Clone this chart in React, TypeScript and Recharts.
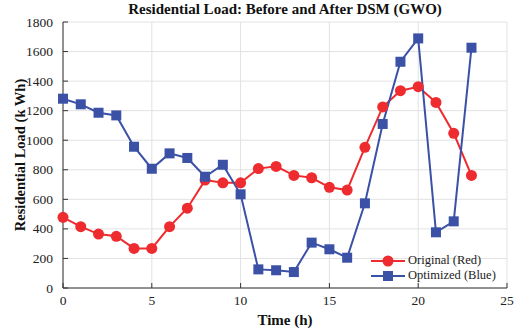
import React from 'react';
import { LineChart, Line, XAxis, YAxis, CartesianGrid } from 'recharts';

const hours = [0, 1, 2, 3, 4, 5, 6, 7, 8, 9, 10, 11, 12, 13, 14, 15, 16, 17, 18, 19, 20, 21, 22, 23];
const originalLoad = [478, 415, 365, 350, 268, 268, 415, 540, 730, 712, 712, 808, 823, 762, 746, 681, 663, 952, 1225, 1335, 1362, 1256, 1047, 762];
const optimizedLoad = [1281, 1243, 1186, 1168, 956, 807, 911, 880, 753, 834, 634, 126, 120, 108, 307, 262, 205, 573, 1110, 1531, 1689, 377, 451, 1626];
const xTicks = [0, 5, 10, 15, 20, 25];
const yTicks = [0, 200, 400, 600, 800, 1000, 1200, 1400, 1600, 1800];

const RED = '#ee2b2e';
const BLUE = '#3a51a6';
const FONT = "Liberation Serif, Times New Roman, serif";

const data = hours.map((h, i) => ({ hour: h, original: originalLoad[i], optimized: optimizedLoad[i] }));

const SquareDot = (props: any) => {
  const { cx, cy, index } = props;
  if (cx == null || cy == null) return null;
  return <rect key={`sq-${index}`} x={cx - 5} y={cy - 5} width={10} height={10} fill={BLUE} />;
};

const CircleDot = (props: any) => {
  const { cx, cy, index } = props;
  if (cx == null || cy == null) return null;
  return <circle key={`c-${index}`} cx={cx} cy={cy} r={5.5} fill={RED} />;
};

// plain serif tick labels, matlab-like
const XTick = ({ x, y, payload }: any) => (
  <text x={x} y={y + 10} textAnchor="middle" fontFamily={FONT} fontSize={13.5} fill="#222">{payload.value}</text>
);

const YTick = ({ x, y, payload }: any) => (
  <text x={x - 3} y={y + 4.5} textAnchor="end" fontFamily={FONT} fontSize={13.5} fill="#222">{payload.value}</text>
);

export default function App() {
  return (
    <div style={{ position: 'absolute', left: 0, top: 0, width: 528, height: 330, background: '#fff', fontFamily: FONT }}>
      <div style={{ position: 'absolute', left: 63, width: 444, top: 1, textAlign: 'center', fontWeight: 'bold', fontSize: 15, color: '#111' }}>
        Residential Load: Before and After DSM (GWO)
      </div>
      <LineChart width={528} height={330} data={data} margin={{ top: 22, right: 21, bottom: 0, left: 0 }}>
        <CartesianGrid stroke="#e2e2e2" strokeWidth={1} />
        <XAxis
          dataKey="hour"
          type="number"
          domain={[0, 25]}
          ticks={xTicks}
          height={42}
          tick={<XTick />}
          tickSize={-5}
          tickMargin={12}
          stroke="#333"
          label={{ value: 'Time (h)', position: 'insideBottom', offset: 5, style: { fontFamily: FONT, fontWeight: 'bold', fontSize: 15, fill: '#111' } }}
        />
        <XAxis xAxisId="top" orientation="top" type="number" domain={[0, 25]} ticks={xTicks} height={0} tick={false} tickSize={-5} stroke="#333" />
        <YAxis
          type="number"
          domain={[0, 1800]}
          ticks={yTicks}
          width={63}
          tick={<YTick />}
          tickSize={-5}
          tickMargin={12}
          stroke="#333"
          label={{ value: 'Residential Load (k Wh)', angle: -90, position: 'insideLeft', offset: 20, style: { fontFamily: FONT, fontWeight: 'bold', fontSize: 14.5, fill: '#111', textAnchor: 'middle' } }}
        />
        <YAxis yAxisId="right" orientation="right" type="number" domain={[0, 1800]} ticks={yTicks} width={0} tick={false} tickSize={-5} stroke="#333" />
        <Line dataKey="original" stroke={RED} strokeWidth={2} dot={<CircleDot />} activeDot={false} isAnimationActive={false} />
        <Line dataKey="optimized" stroke={BLUE} strokeWidth={2} dot={<SquareDot />} activeDot={false} isAnimationActive={false} />
      </LineChart>
      <div style={{ position: 'absolute', left: 370, top: 253, fontSize: 12.5, color: '#222', lineHeight: '15px' }}>
        <div style={{ display: 'flex', alignItems: 'center' }}>
          <svg width={36} height={14}>
            <line x1={1} y1={7} x2={35} y2={7} stroke={RED} strokeWidth={2} />
            <circle cx={18} cy={7} r={5.5} fill={RED} />
          </svg>
          <span style={{ marginLeft: 2 }}>Original (Red)</span>
        </div>
        <div style={{ display: 'flex', alignItems: 'center' }}>
          <svg width={36} height={14}>
            <line x1={1} y1={7} x2={35} y2={7} stroke={BLUE} strokeWidth={2} />
            <rect x={13} y={2} width={10} height={10} fill={BLUE} />
          </svg>
          <span style={{ marginLeft: 2 }}>Optimized (Blue)</span>
        </div>
      </div>
    </div>
  );
}
